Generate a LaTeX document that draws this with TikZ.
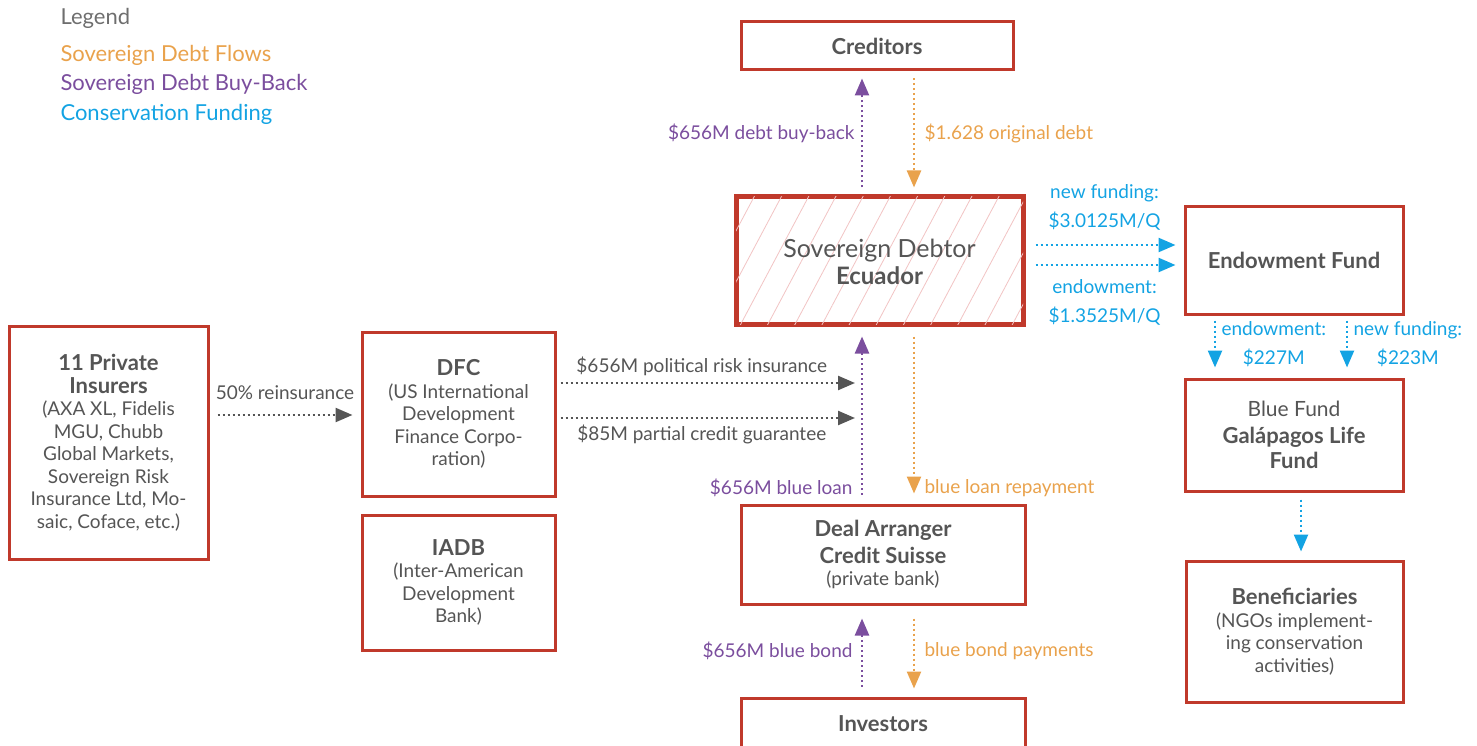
\documentclass[tikz,border=0pt]{standalone}
\usepackage{fontspec}
\setmainfont{Lato}
\usetikzlibrary{arrows.meta,patterns.meta}
\definecolor{boxred}{HTML}{C0392B}
\definecolor{txtgray}{HTML}{555555}
\definecolor{flowor}{HTML}{E9A24C}
\definecolor{buypur}{HTML}{7B4E9E}
\definecolor{conblu}{HTML}{13A3E3}
\definecolor{hatchpk}{HTML}{F2C4C4}
\newcommand{\lbl}{\fontsize{19}{29}\selectfont}
\newcommand{\ttl}{\fontsize{22}{24}\selectfont\bfseries}
\begin{document}
\begin{tikzpicture}[x=1pt,y=-1pt,>={Triangle[width=14pt,length=17pt]},line join=miter]
  \tikzstyle{box}=[draw=boxred,line width=3pt,fill=white,align=center,text=txtgray,inner sep=2pt,font=\fontsize{19}{22.5}\selectfont]
  \tikzstyle{flow}=[line width=2.4pt,dash pattern=on 2pt off 3pt,->]
  \tikzstyle{debt}=[flow,draw=flowor,text=flowor,font=\lbl]
  \tikzstyle{buy}=[flow,draw=buypur,text=buypur,font=\lbl]
  \tikzstyle{cons}=[flow,draw=conblu,text=conblu,font=\lbl,align=center]
  \tikzstyle{risk}=[flow,draw=txtgray,text=txtgray,font=\lbl]
  \tikzstyle{legtext}=[anchor=west,font=\fontsize{22}{24}\selectfont]
  \useasboundingbox (0,0) rectangle (1477,746);
  \def\xb{862}	% x of buy-back arrows
  \def\xo{914}	% x of debt arrows
  % legend
  \node[legtext,text=txtgray!85] (leg) at (57,18) {Legend};
  \node[legtext,text=flowor] (legA) at (57,55) {Sovereign Debt Flows};
  \node[legtext,text=buypur] (legB) at (57,84) {Sovereign Debt Buy-Back};
  \node[legtext,text=conblu] (legC) at (57,114) {Conservation Funding};
  % boxes
  \node[box,minimum width=272,minimum height=48] (cred) at (877,46) {\ttl Creditors};
  \node[box,line width=5pt,minimum width=287,minimum height=127,
    postaction={pattern={Lines[angle=62,distance=24pt,line width=0.8pt]},pattern color=hatchpk}] (sov) at (879.5,260.5) {};
  \node[align=center,text=txtgray] (sovt) at (879.5,262) {\fontsize{25}{29}\selectfont Sovereign Debtor\\[4pt]\fontsize{24}{29}\selectfont\bfseries Ecuador};
  \node[box,minimum width=218,minimum height=107] (endow) at (1294,260.5) {\ttl Endowment Fund};
  \node[box,minimum width=218,minimum height=112] (bluef) at (1294,435) {\fontsize{21}{24}\selectfont Blue Fund\\[4pt]\ttl Galápagos Life\\[3pt]\ttl Fund};
  \node[box,minimum width=217,minimum height=141] (benef) at (1294.5,631.5) {\ttl Beneficiaries\\(NGOs implement-\\ing conservation\\activities)};
  \node[box,minimum width=199,minimum height=233] (ins) at (108.5,442.5) {\ttl 11 Private\\\ttl Insurers\\(AXA XL, Fidelis\\MGU, Chubb\\Global Markets,\\Sovereign Risk\\Insurance Ltd, Mo-\\saic, Coface, etc.)};
  \node[box,minimum width=193,minimum height=164] (dfc) at (458.5,414) {\ttl DFC\\(US International\\Development\\Finance Corpo-\\ration)};
  \node[box,minimum width=193,minimum height=135] (iadb) at (458.5,582.5) {\ttl IADB\\(Inter-American\\Development\\Bank)};
  \node[box,minimum width=284,minimum height=99] (deal) at (883,554.5) {\ttl Deal Arranger\\[4pt]\ttl Credit Suisse\\(private bank)};
  \node[box,minimum width=284,minimum height=52] (inv) at (883,724) {\ttl Investors};
  % helper coordinates
  \coordinate (bx) at (\xb,0);
  \coordinate (ox) at (\xo,0);
  \coordinate (pri) at (855,383);
  \coordinate (pcg) at (855,418);
  \coordinate (nf) at (0,245);
  \coordinate (en) at (0,265);
  \coordinate (ex) at (1215,0);
  \coordinate (fx) at (1347,0);
  \coordinate (gx) at (1301,0);
  % debt and buy-back flows
  \draw[buy,shorten <=7pt,shorten >=7pt] (sov.north -| bx) -- node[left=3pt]{\$656M debt buy-back} (cred.south -| bx);
  \draw[debt,shorten <=7pt,shorten >=7pt] (cred.south -| ox) -- node[right=6pt]{\$1.628 original debt} (sov.north -| ox);
  \draw[buy,shorten <=9pt,shorten >=10pt] (deal.north -| bx) -- node[left=5pt,pos=0.09]{\$656M blue loan} (sov.south -| bx);
  \draw[debt,shorten <=10pt,shorten >=10pt] (sov.south -| ox) -- node[right=6pt,pos=0.915]{blue loan repayment} (deal.north -| ox);
  \draw[buy,shorten <=10pt,shorten >=13pt] (inv.north -| bx) -- node[left=5pt]{\$656M blue bond} (deal.south -| bx);
  \draw[debt,shorten <=13pt,shorten >=8pt] (deal.south -| ox) -- node[right=6pt]{blue bond payments} (inv.north -| ox);
  % insurance
  \draw[risk,shorten <=8pt,shorten >=8pt] (ins.east |- 0,415) -- node[above=11pt]{50\% reinsurance} (dfc.west |- 0,415);
  \draw[risk,shorten <=4pt] (dfc.east |- pri) -- node[above=3pt,xshift=-4pt]{\$656M political risk insurance} (pri);
  \draw[risk,shorten <=4pt] (dfc.east |- pcg) -- node[below=2pt,xshift=-4pt]{\$85M partial credit guarantee} (pcg);
  % conservation funding
  \draw[cons,shorten <=10pt,shorten >=8pt] (sov.east |- nf) -- node[above=10pt]{new funding:\\\$3.0125M/Q} (endow.west |- nf);
  \draw[cons,shorten <=10pt,shorten >=8pt] (sov.east |- en) -- node[below=10pt]{endowment:\\\$1.3525M/Q} (endow.west |- en);
  \draw[cons,shorten <=5pt,shorten >=10pt] (endow.south -| ex) -- node[right=2pt,yshift=2pt]{endowment:\\\$227M} (bluef.north -| ex);
  \draw[cons,shorten <=5pt,shorten >=10pt] (endow.south -| fx) -- node[right=2pt,yshift=2pt]{new funding:\\\$223M} (bluef.north -| fx);
  \draw[cons,shorten <=7pt,shorten >=8pt] (bluef.south -| gx) -- (benef.north -| gx);
\end{tikzpicture}
\end{document}
